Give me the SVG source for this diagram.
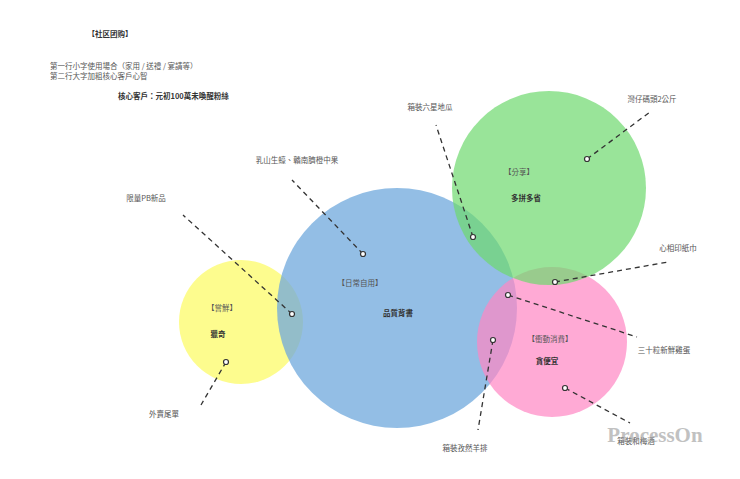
<svg xmlns="http://www.w3.org/2000/svg" width="740" height="479" viewBox="0 0 740 479">
<style>
text{font-family:"Noto Sans CJK TC","Noto Sans CJK SC",sans-serif;font-size:7.5px;fill:#555}
.b{font-weight:bold;fill:#333}
.t{text-anchor:middle}
.c{fill:none;stroke:#333;stroke-width:1.3;stroke-dasharray:5,4}
.d{fill:#fff;stroke:#333;stroke-width:1.2}
</style>
<rect width="740" height="479" fill="#fff"/>
<g id="header">
<text x="110" y="37" class="t b">【社区团购】</text>
<text x="50" y="69">第一行小字使用場合（家用 / 送禮 / 宴請等）</text>
<text x="50" y="79">第二行大字加粗核心客戶心智</text>
<text x="118" y="99" class="b">核心客戶：元初100萬未喚醒粉絲</text>
</g>
<g id="yellow"><circle cx="241" cy="322" r="62" fill="#fdfc7a" opacity="0.85"/></g>
<g id="blue"><circle cx="397" cy="308" r="120" fill="#6fa8dc" opacity="0.75"/></g>
<g id="pink"><circle cx="552" cy="342" r="75" fill="#ff86c3" opacity="0.7"/></g>
<g id="green"><circle cx="549" cy="188" r="97" fill="#6dd86d" opacity="0.7"/></g>
<g id="labels">
<text x="222" y="311" class="t">【嘗鮮】</text><text x="218" y="337" class="t b">獵奇</text>
<text x="360" y="286" class="t">【日常自用】</text><text x="398" y="316" class="t b">品質背書</text>
<text x="519" y="175" class="t">【分享】</text><text x="526" y="201" class="t b">多拼多省</text>
<text x="550" y="342" class="t">【衝動消費】</text><text x="547" y="364" class="t b">貪便宜</text>
</g>
<g id="connectors">
<path class="c" d="M292 314L183 215M363 254L292 180M473 237L436 125M587 159L650 112M555 282L668 262M508 295L637 337M493 340L478 430M565 388L630 423M226 362L201 405"/>
<circle class="d" cx="292" cy="314" r="2.5"/><circle class="d" cx="363" cy="254" r="2.5"/><circle class="d" cx="473" cy="237" r="2.5"/><circle class="d" cx="587" cy="159" r="2.5"/><circle class="d" cx="555" cy="282" r="2.5"/><circle class="d" cx="508" cy="295" r="2.5"/><circle class="d" cx="493" cy="340" r="2.5"/><circle class="d" cx="565" cy="388" r="2.5"/><circle class="d" cx="226" cy="362" r="2.5"/>
</g>
<g id="items">
<text x="146" y="201" class="t">限量PB新品</text>
<text x="297" y="163" class="t">乳山生蠔、贛南臍橙中果</text>
<text x="430" y="110" class="t">箱裝六星地瓜</text>
<text x="652" y="102" class="t">灣仔碼頭2公斤</text>
<text x="678" y="251" class="t">心相印紙巾</text>
<text x="664" y="353" class="t">三十粒新鮮雞蛋</text>
<text x="465" y="451" class="t">箱裝孜然羊排</text>
<text x="164" y="417" class="t">外賣尾單</text>
<text x="636" y="444" class="t">箱裝和梅酒</text>
</g>
<text x="655" y="442" class="t" style="font-family:'Liberation Serif',serif;font-size:21px;font-weight:bold;fill:#999;opacity:0.6">ProcessOn</text>
</svg>
